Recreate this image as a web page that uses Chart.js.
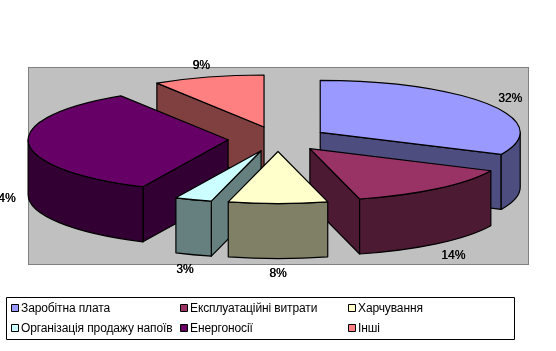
<!DOCTYPE html>
<html><head><meta charset="utf-8">
<style>html,body{margin:0;padding:0;background:#fff}#w{width:556px;height:351px;position:relative}</style>
<script src="https://cdn.jsdelivr.net/npm/chart.js@4"></script>
</head><body><div id="w"><canvas id="c" width="556" height="351"></canvas></div>
<script>
const categories = ['Заробітна плата','Експлуатаційні витрати','Харчування','Організація продажу напоїв','Енергоносії','Інші'];
const shares = [32,14,8,3,34,9];
const topColors = ['#9999FF','#993366','#FFFFCC','#CCFFFF','#660066','#FF8080'];
const wallColors = ['#4D4D80','#4D1A33','#808066','#668080','#330033','#804040'];

const TILT = 0.26, DEPTH = 55, FONT = '12px "Liberation Sans", Arial, sans-serif';
const PLOT = {l:28.5, t:67.5, r:528.5, b:264.5};
const LEG = {l:6.5, t:297.5, r:514.5, b:339.5, cols:[11,180,348], rows:[308,328]};

function geom(arc){
  const p = arc.getProps(['x','y','startAngle','endAngle','outerRadius']);
  const mid = (p.startAngle+p.endAngle)/2, off = arc.options.offset;
  const cx = p.x + Math.cos(mid)*off;
  const cy = p.y + Math.sin(mid)*off*0.25;
  return {cx,cy,r:p.outerRadius,a1:p.startAngle,a2:p.endAngle,mid};
}
function face(ctx,pts,fill){
  ctx.beginPath(); pts(); ctx.closePath();
  ctx.fillStyle = fill; ctx.fill(); ctx.stroke();
}
const pseudo3d = {
  id:'pseudo3d',
  beforeDatasetDraw(chart,args){
    const ctx = chart.ctx;
    ctx.save();
    ctx.fillStyle='#C0C0C0'; ctx.strokeStyle='#808080'; ctx.lineWidth=1;
    ctx.fillRect(PLOT.l,PLOT.t,PLOT.r-PLOT.l,PLOT.b-PLOT.t);
    ctx.strokeRect(PLOT.l,PLOT.t,PLOT.r-PLOT.l,PLOT.b-PLOT.t);

    const arcs = args.meta.data.map((a,i)=>({g:geom(a),i}));
    arcs.sort((x,y)=>x.g.cy-y.g.cy);
    ctx.strokeStyle='#000'; ctx.lineWidth=1.2; ctx.lineJoin='round';
    for(const {g,i} of arcs){
      const {cx,cy,r,a1,a2} = g, wall = wallColors[i];
      const radial = a=>face(ctx,()=>{
        ctx.moveTo(cx,cy);
        ctx.lineTo(cx+r*Math.cos(a),cy+r*TILT*Math.sin(a));
        ctx.lineTo(cx+r*Math.cos(a),cy+r*TILT*Math.sin(a)+DEPTH);
        ctx.lineTo(cx,cy+DEPTH);
      },wall);
      if(Math.cos(a1)<-1e-6) radial(a1);
      if(Math.cos(a2)>1e-6) radial(a2);
      const o1=Math.max(a1,0), o2=Math.min(a2,Math.PI);
      if(o2>o1) face(ctx,()=>{
        ctx.ellipse(cx,cy,r,r*TILT,0,o1,o2);
        ctx.ellipse(cx,cy+DEPTH,r,r*TILT,0,o2,o1,true);
      },wall);
      face(ctx,()=>{
        ctx.moveTo(cx,cy);
        ctx.ellipse(cx,cy,r,r*TILT,0,a1,a2);
      },topColors[i]);
    }

    ctx.font=FONT; ctx.fillStyle='#000'; ctx.textAlign='center'; ctx.textBaseline='middle';
    const total = shares.reduce((a,b)=>a+b,0);
    for(const {g,i} of arcs){
      const c=Math.cos(g.mid), s=Math.sin(g.mid), R=g.r+25;
      const x=g.cx+R*c, y=g.cy+R*TILT*s+(s>0?9*s+DEPTH:5*s);
      ctx.fillText(Math.round(shares[i]/total*100)+'%',x,y);
      ctx.fillText(Math.round(shares[i]/total*100)+'%',x+0.3,y);
    }

    ctx.fillStyle='#fff'; ctx.strokeStyle='#000'; ctx.lineWidth=1;
    ctx.strokeRect(LEG.l,LEG.t,LEG.r-LEG.l,LEG.b-LEG.t);
    const items = chart.options.plugins.legend.labels.generateLabels(chart);
    ctx.textAlign='left'; ctx.letterSpacing='-0.12px';
    items.forEach((it,k)=>{
      const col=k%3, row=Math.floor(k/3), x=LEG.cols[col], y=LEG.rows[row];
      ctx.fillStyle=it.fillStyle; ctx.strokeStyle='#000';
      ctx.fillRect(x+.5,y-3.5,7,7); ctx.strokeRect(x+.5,y-3.5,7,7);
      ctx.fillStyle='#000'; ctx.fillText(it.text,x+10,y+.5);
    });
    ctx.restore();
    return false;
  }
};
new Chart(document.getElementById('c'),{
  type:'pie',
  data:{labels:categories,datasets:[{data:shares,backgroundColor:topColors,borderColor:'#000',borderWidth:0,offset:50}]},
  options:{
    responsive:false,animation:false,radius:200,
    layout:{padding:{left:0,right:0,top:0,bottom:73}},
    plugins:{legend:{display:false},tooltip:{enabled:false}}
  },
  plugins:[pseudo3d]
});
</script></body></html>
